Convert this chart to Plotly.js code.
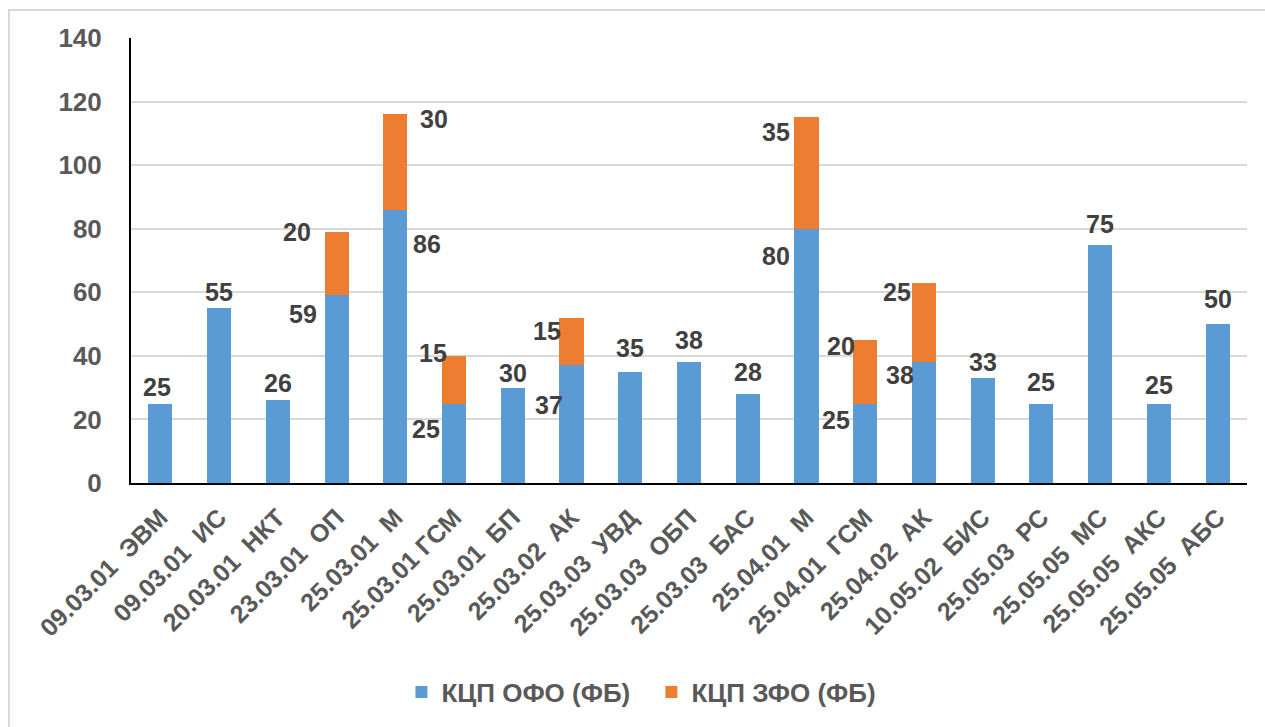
<!DOCTYPE html>
<html>
<head>
<meta charset="utf-8">
<script src="https://cdn.plot.ly/plotly-3.0.1.min.js"></script>
<style>
html,body{margin:0;padding:0;overflow:hidden;background:#fff;}
#chart{width:1265px;height:727px;}
#frame{position:absolute;left:8px;top:9px;width:1300px;height:800px;border:2px solid #d9d9d9;pointer-events:none;}
</style>
</head>
<body>
<div id="chart"></div>
<div id="frame"></div>
<script>
const NB = '\u00a0\u00a0';
const categories = [
  '09.03.01' + NB + 'ЭВМ', '09.03.01' + NB + 'ИС', '20.03.01' + NB + 'НКТ', '23.03.01' + NB + 'ОП',
  '25.03.01' + NB + 'М', '25.03.01 ГСМ', '25.03.01' + NB + 'БП', '25.03.02' + NB + 'АК',
  '25.03.03' + NB + 'УВД', '25.03.03' + NB + 'ОБП', '25.03.03' + NB + 'БАС', '25.04.01' + NB + 'М',
  '25.04.01' + NB + 'ГСМ', '25.04.02' + NB + 'АК', '10.05.02' + NB + 'БИС', '25.05.03' + NB + 'РС',
  '25.05.05' + NB + 'МС', '25.05.05' + NB + 'АКС', '25.05.05' + NB + 'АБС'
];
const seriesNames = ['КЦП ОФО (ФБ)', 'КЦП ЗФО (ФБ)'];
const ofoValues = [25, 55, 26, 59, 86, 25, 30, 37, 35, 38, 28, 80, 25, 38, 33, 25, 75, 25, 50];
const zfoValues = [0, 0, 0, 20, 30, 15, 0, 15, 0, 0, 0, 35, 20, 25, 0, 0, 0, 0, 0];

// label offsets in px (style only)
const ofoDx = [-3, 0, 0, -34, 32, -28, 0, -23, 0, 0, 0, -30, -29, -24, 0, 0, 0, 0, 0];
const ofoDy = [17, 16, 17, -19, -34, -25, 15, -40, 24, 22, 22, -27, -16, -13, 16, 22, 21, 19, 25];
const zfoDx = [0, 0, 0, -40, 39, -21, 0, -25, 0, 0, 0, -30, -24, -27, 0, 0, 0, 0, 0];
const zfoDy = [0, 0, 0, 0, -5, 3, 0, -13, 0, 0, 0, -15, -6, -9, 0, 0, 0, 0, 0];

const FONT = 'Liberation Sans, Arial, sans-serif';
const labelFont = {family: FONT, size: 25, color: '#404040', weight: 'bold'};

const traces = [
  {type: 'bar', name: seriesNames[0], x: categories, y: ofoValues,
   marker: {color: '#5B9BD5', line: {width: 0}}, hoverinfo: 'skip'},
  {type: 'bar', name: seriesNames[1], x: categories, y: zfoValues.map(v => v > 0 ? v : null),
   marker: {color: '#ED7D31', line: {width: 0}}, hoverinfo: 'skip'}
];

const annotations = [];
categories.forEach((c, i) => {
  annotations.push({x: c, y: ofoValues[i], xref: 'x', yref: 'y', text: String(ofoValues[i]),
    showarrow: false, xanchor: 'center', yanchor: 'middle', xshift: ofoDx[i], yshift: ofoDy[i], font: labelFont});
  if (zfoValues[i] > 0) {
    annotations.push({x: c, y: ofoValues[i] + zfoValues[i], xref: 'x', yref: 'y', text: String(zfoValues[i]),
      showarrow: false, xanchor: 'center', yanchor: 'middle', xshift: zfoDx[i], yshift: zfoDy[i], font: labelFont});
  }
});

const layout = {
  width: 1265, height: 727,
  margin: {l: 131, r: 18, t: 38, b: 240, pad: 0},
  paper_bgcolor: 'rgba(0,0,0,0)', plot_bgcolor: '#fff',
  barmode: 'stack', bargap: 0.59,
  showlegend: true,
  legend: {orientation: 'h', x: 0.2423, xanchor: 'left', y: -0.47, yanchor: 'middle',
    font: {family: FONT, size: 26, color: '#595959', weight: 'bold'}, entrywidth: 205, traceorder: 'normal'},
  xaxis: {type: 'category', tickangle: -45, showline: true, linecolor: '#000', linewidth: 2,
    ticks: '', showgrid: false, ticklabelstandoff: 8,
    tickfont: {family: FONT, size: 25, color: '#595959', weight: 'bold'},
    automargin: false, fixedrange: true},
  yaxis: {range: [0, 140], dtick: 20, showline: true, linecolor: '#000', linewidth: 2,
    gridcolor: '#d9d9d9', gridwidth: 2, zeroline: false, ticks: '', ticklabelstandoff: 22,
    tickfont: {family: FONT, size: 26, color: '#595959', weight: 'bold'}, automargin: false, fixedrange: true},
  annotations: annotations,
  font: {family: FONT}
};

Plotly.newPlot('chart', traces, layout, {staticPlot: true, displayModeBar: false});
</script>
</body>
</html>
